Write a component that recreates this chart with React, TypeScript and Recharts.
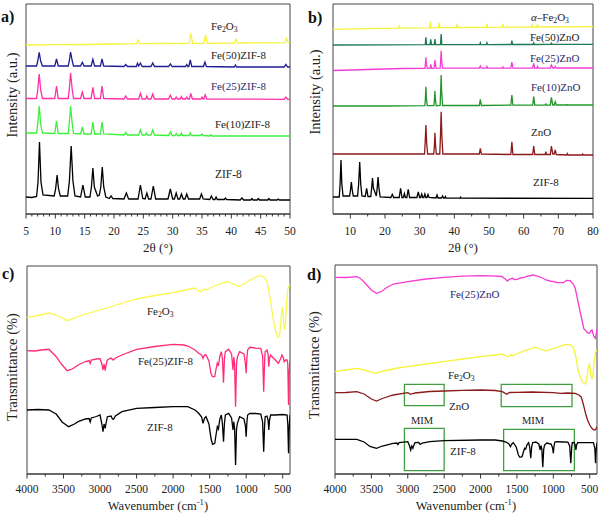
import React from 'react';
import { LineChart, Line, XAxis, YAxis, ReferenceArea } from 'recharts';

type Pt = [number, number];

// ---- panel a: XRD of Fe(x)ZIF-8 ----
const xrdZif8A: Pt[] = [[5,17],[6,16.5],[6.8,17.5],[7.05,32],[7.3,72],[7.55,32],[7.9,19],[9.8,18],[10.05,25],[10.3,39],[10.55,25],[10.85,18],[12.1,18],[12.4,33],[12.7,68],[13.0,33],[13.35,18],[14.3,17],[14.7,29],[15.1,17],[15.9,17],[16.15,27],[16.4,46],[16.65,27],[17.2,18],[17.5,19],[17.75,27],[18.0,47],[18.25,27],[18.6,17],[19.2,15.5],[19.5,18],[19.8,15.5],[21.7,15],[22.1,21],[22.5,15],[24.1,15],[24.5,29],[24.9,15.5],[25.3,15],[25.6,21],[25.9,15],[26.3,15],[26.7,28],[27.1,15],[29.2,15],[29.6,25],[30.0,15],[30.3,15],[30.6,21],[30.9,15],[31.2,15],[31.5,20],[31.8,15],[32.1,15],[32.4,20],[32.7,15],[34.6,15],[34.9,20],[35.2,15],[36.3,14.5],[36.6,18],[36.9,14.5],[37.2,14.5],[37.4,17],[37.6,14.5],[38.8,14.5],[39,16],[39.2,14.5],[41.5,14],[41.8,16],[42.1,14],[43.3,14],[43.5,15.5],[43.7,14],[44.4,14],[44.6,15.5],[44.8,14],[46.2,14],[46.4,15.5],[46.6,14],[47.8,14],[48,15],[48.2,14],[50,14]];
const xrdFe10Zif8: Pt[] = [[5,81],[6.8,81],[7.0,90],[7.25,108],[7.5,90],[7.8,81],[9.9,80.5],[10.2,93],[10.5,80.5],[12.2,80.5],[12.4,92],[12.6,108],[12.85,92],[13.1,80.5],[14.3,80],[14.6,87],[14.9,80],[16.1,80],[16.4,92],[16.7,80],[17.7,80],[17.95,92],[18.25,80],[21.7,79],[22,81.5],[22.3,79],[24.2,79],[24.5,84],[24.8,79],[25.3,79],[25.5,81],[25.7,79],[26.3,79],[26.6,84],[26.9,79],[29.3,78.5],[29.6,82],[29.9,78.5],[30.4,78.5],[30.6,80.5],[30.8,78.5],[31.3,78.5],[31.5,81],[31.7,78.5],[32.8,78.5],[33,81],[33.2,78.5],[34.8,78.5],[35,80],[35.2,78.5],[36.3,78],[36.5,79.5],[36.7,78],[50,78]];
const xrdFe25Zif8: Pt[] = [[5,115.5],[6.8,115.5],[7.0,124],[7.25,140],[7.5,124],[7.8,115.5],[9.9,115.5],[10.2,128],[10.5,115.5],[12.2,115.5],[12.4,126],[12.6,141],[12.85,126],[13.1,115.5],[14.3,115.5],[14.6,122],[14.9,115.5],[16.1,115.5],[16.4,126.7],[16.7,115.5],[17.7,115.5],[17.95,128],[18.25,115.5],[21.7,115],[22,118],[22.3,115],[24.2,115],[24.5,120.7],[24.8,115],[25.4,115],[25.6,118],[25.8,115],[26.3,115],[26.6,120],[26.9,115],[29.3,115],[29.6,118.7],[29.9,115],[30.4,115],[30.6,117],[30.8,115],[31.3,115],[31.5,117.5],[31.7,115],[32.2,115],[32.4,117],[32.6,115],[32.85,115],[33.1,120.7],[33.35,115],[34.8,115],[35,117],[35.2,115],[35.3,115],[35.55,119],[35.8,115],[49.0,114.7],[49.3,117],[49.6,114.7],[50,114.7]];
const xrdFe50Zif8: Pt[] = [[5,148],[6.8,148],[7.0,153],[7.25,161.7],[7.5,153],[7.8,148],[9.9,148],[10.2,155],[10.5,148],[12.2,148],[12.4,154],[12.6,162],[12.85,154],[13.1,148],[14.3,148],[14.6,151.7],[14.9,148],[16.1,148],[16.4,154.7],[16.7,148],[17.7,148],[17.95,155],[18.25,148],[21.7,147.5],[22,149.5],[22.3,147.5],[23.8,147.5],[24,150.7],[24.2,148],[24.5,151],[24.8,147.5],[26.3,147.5],[26.6,151],[26.9,147.5],[29.3,147.5],[29.6,150],[29.9,147.5],[32.2,147.5],[32.4,149.5],[32.6,147.5],[32.75,147.5],[33,154],[33.25,147.5],[35.25,147.5],[35.5,152],[35.75,147.5],[40.5,147],[40.7,149],[40.9,147],[49.0,147],[49.3,149.5],[49.6,147],[50,147]];
const xrdFe2o3A: Pt[] = [[5,169],[10,169.3],[15,169.5],[20,170],[23.8,170.3],[24.1,174],[24.4,170.3],[28,170.5],[32.8,170.6],[33.1,180.7],[33.4,170.6],[35.3,170.7],[35.6,179],[35.9,170.7],[40.5,171],[40.8,174.7],[41.1,171],[45,171.2],[49.1,171.3],[49.4,175.7],[49.7,171.3],[50,171.5]];

// ---- panel b: XRD of Fe(x)ZnO ----
const xrdZif8B: Pt[] = [[5,17],[6.8,17],[7.05,30],[7.3,54],[7.55,30],[7.9,18],[9.8,18],[10.05,24],[10.3,32],[10.55,24],[10.85,18],[12.1,18],[12.4,30],[12.7,52],[13.0,30],[13.35,18],[14.3,17.5],[14.7,25.7],[15.1,17.5],[15.9,17.5],[16.15,26],[16.4,36],[16.65,26],[17.5,18],[17.75,26],[18.0,37],[18.25,26],[18.6,17],[21.7,16.5],[22.1,19.7],[22.5,16.5],[24.1,16.5],[24.5,25.7],[24.9,16.5],[25.3,16.5],[25.6,20.5],[25.9,16.5],[26.3,16.5],[26.7,24.7],[27.1,16.5],[29.2,16.5],[29.6,22],[30.0,16.5],[30.3,16.5],[30.6,20],[30.9,16.5],[31.2,16.5],[31.5,20],[31.8,16.5],[32.1,16.5],[32.4,19.5],[32.7,16.5],[34.7,16],[35,19],[35.3,16],[36.3,16],[36.6,18],[36.9,16],[37.2,16],[37.4,17.5],[37.6,16],[41.6,15.8],[41.8,16.8],[42,15.8],[80,15.7]];
const xrdZnO: Pt[] = [[5,60],[20,60],[31.4,60],[31.6,72],[31.8,89],[32.0,72],[32.3,60],[34.05,60],[34.25,68],[34.4,81.3],[34.6,68],[34.8,60],[35.8,60],[36.0,78],[36.2,102.3],[36.4,78],[36.7,60],[47.2,60],[47.5,65.7],[47.8,60],[56.3,59.5],[56.6,72.3],[56.9,59.5],[62.6,59.5],[62.9,68],[63.2,59.5],[66.2,59.5],[66.4,62.3],[66.6,59.5],[67.7,59.5],[68.0,68],[68.4,60],[68.8,60],[69.1,64],[69.4,59.5],[72.4,59],[72.6,60.5],[72.8,59],[76.8,59],[77,60],[77.2,59],[80,59]];
const xrdFe10ZnO: Pt[] = [[5,108],[20,108],[31.5,108.3],[31.65,115],[31.8,127.3],[31.95,115],[32.2,108.3],[34.1,108.3],[34.25,114],[34.4,123.3],[34.55,114],[34.8,108.3],[35.9,108.5],[36.05,122],[36.2,139],[36.35,122],[36.6,108.5],[47.2,108.5],[47.5,114.7],[47.8,108.5],[56.3,108.8],[56.6,119],[56.9,108.8],[62.6,108.8],[62.9,117.3],[63.2,108.8],[66.2,108.8],[66.4,110],[66.6,108.8],[67.7,108.8],[68,116.7],[68.4,109],[68.8,109],[69.1,112.3],[69.4,109],[72.4,109],[72.6,109.5],[72.8,109],[80,109]];
const xrdFe25ZnO: Pt[] = [[5,143.5],[15,144.5],[25,145.5],[31.5,145.7],[31.65,150],[31.8,156.7],[31.95,150],[32.2,145.7],[32.95,145.7],[33.2,149.7],[33.45,145.7],[34.15,145.7],[34.25,149],[34.4,154],[34.55,149],[34.8,145.7],[35.9,145.8],[36.05,153],[36.2,163.3],[36.35,153],[36.6,145.8],[47.2,145.8],[47.5,148],[47.8,145.8],[49.2,145.8],[49.4,147.5],[49.6,145.8],[53.8,145.8],[54,147],[54.2,145.8],[56.3,145.9],[56.6,152],[56.9,145.9],[62.6,145.9],[62.9,150.7],[63.2,145.9],[63.8,145.9],[64,147.5],[64.2,145.9],[67.7,146],[68,149],[68.4,146],[68.8,146],[69.1,147.5],[69.4,146],[80,146]];
const xrdFe50ZnO: Pt[] = [[5,169],[20,169.2],[31.6,169.3],[31.8,176.7],[32.0,169.3],[33.0,169.3],[33.2,174.7],[33.4,169.3],[34.2,169.3],[34.4,175],[34.6,169.3],[36.0,169.4],[36.2,180],[36.4,169.4],[47.3,169.4],[47.5,171.3],[47.7,169.4],[49.2,169.4],[49.4,171.3],[49.6,169.4],[56.4,169.5],[56.6,173.3],[56.8,169.5],[62.7,169.5],[62.9,171.3],[63.1,169.5],[67.8,169.6],[68,170.7],[68.2,169.6],[80,169.7]];
const xrdFe2o3B: Pt[] = [[5,184.7],[15,185.3],[23.9,185.8],[24.1,188],[24.3,185.8],[32.9,186.2],[33.1,192.3],[33.3,186.2],[35.4,186.3],[35.6,191.3],[35.8,186.3],[40.6,186.5],[40.8,189],[41,186.5],[49.2,186.7],[49.4,190],[49.6,186.7],[53.8,186.8],[54,190],[54.2,186.8],[62.2,187],[62.4,189.3],[62.6,187],[63.8,187],[64,189.7],[64.2,187],[80,187.3]];

// ---- panel c: FTIR ----
const irFe2o3C: Pt[] = [[4000,156.7],[3850,158.5],[3700,161],[3600,159],[3450,153.3],[3300,157.5],[3100,162],[3000,164],[2800,168.5],[2500,175],[2250,178.5],[2000,181.3],[1800,184.5],[1700,186],[1650,183],[1620,182],[1580,185],[1550,184],[1500,186],[1400,189],[1300,191.5],[1250,192.3],[1180,190],[1100,187.5],[1020,190.5],[950,194],[880,196.5],[820,198.3],[760,197.5],[720,193],[690,184],[660,170],[630,155],[600,144],[575,138],[558,136.7],[538,141],[518,160],[503,167.3],[490,155],[476,144],[462,150],[450,168],[430,185],[410,189],[400,188]];
const irFe25Zif8: Pt[] = [[4000,123.3],[3900,123],[3800,124],[3700,124.7],[3650,121],[3600,117.3],[3530,110],[3450,103.3],[3380,105],[3300,109],[3200,112.5],[3150,113.5],[3135,110.5],[3120,114],[3050,115],[3000,115.3],[2975,110],[2960,104],[2945,110],[2930,103.3],[2915,110],[2900,114],[2850,116],[2820,114],[2790,116],[2700,119],[2500,124.7],[2250,127.5],[2000,129.7],[1850,129],[1800,128],[1700,124],[1650,120.7],[1610,119],[1590,115.7],[1570,119],[1550,119],[1510,113],[1480,100],[1460,97.3],[1430,97.3],[1415,104],[1395,111],[1380,108],[1360,118],[1340,122.3],[1325,115],[1310,91.3],[1298,115],[1285,122.3],[1240,124.7],[1200,120],[1180,104],[1170,117],[1158,110],[1145,67.3],[1132,110],[1120,117],[1090,122.3],[1030,120],[1010,110],[1000,100.7],[990,116],[980,124],[950,126.7],[870,126],[800,125.7],[775,118],[760,82.3],[748,112],[740,122.3],[715,124],[700,120],[690,107.3],[680,116],[665,119],[630,116],[600,114],[560,110.7],[530,115],[510,119],[490,116],[480,112.3],[460,114],[440,114],[430,110],[420,69],[412,100],[400,114]];
const irZif8C: Pt[] = [[4000,64],[3850,64.5],[3700,64],[3650,62],[3600,60],[3520,52],[3430,47.3],[3350,50],[3300,52.3],[3200,55],[3150,55.5],[3135,52],[3120,56],[3050,57.5],[3000,59],[2975,50],[2960,42.3],[2945,50],[2930,45.7],[2915,52],[2900,57.3],[2850,58],[2830,55],[2815,54.7],[2790,58],[2700,62.3],[2500,65.7],[2250,66.5],[2000,67.3],[1800,67.3],[1700,64],[1650,60.7],[1610,57],[1590,50.7],[1570,56],[1550,57.3],[1510,50],[1480,35],[1460,29.7],[1430,30.7],[1415,38],[1395,47.3],[1380,45],[1360,55],[1340,59],[1325,50],[1310,32.3],[1298,50],[1285,59],[1240,60.7],[1200,56],[1180,44],[1170,52.3],[1158,45],[1145,9],[1132,45],[1120,50.7],[1090,57.3],[1030,55],[1010,48],[1000,37.3],[990,52],[980,59],[950,60.7],[870,60.5],[800,60],[775,52],[760,22.3],[748,48],[740,57.3],[715,58],[700,54],[690,44],[680,54],[665,59],[600,59],[500,59.5],[440,59],[430,50],[420,20.7],[412,45],[400,59]];

// ---- panel d: FTIR ----
const irFe25ZnO: Pt[] = [[4000,196.7],[3850,196.5],[3700,197.3],[3650,195.5],[3600,192],[3500,184],[3430,180.7],[3350,183],[3300,186],[3200,190],[3000,192.3],[2750,195],[2500,196.7],[2250,197.8],[2000,198.3],[1850,198.2],[1707,197.5],[1660,195],[1630,193],[1600,195],[1560,195.7],[1540,194.5],[1500,194.7],[1450,196],[1400,196.7],[1350,197.8],[1276,199],[1200,197.3],[1150,196],[1100,194],[1050,193],[1000,192.3],[950,191.5],[864,191.3],[820,193.5],[768,193.3],[726,190],[700,186],[675,177.3],[640,165],[607,154],[580,145],[561,144],[530,141],[502,140.7],[485,143],[469,144],[445,138],[424,135.7],[410,140],[400,145]];
const irFe2o3D: Pt[] = [[4000,102.3],[3850,104],[3700,105.7],[3600,104],[3450,100.7],[3300,103.5],[3100,106.5],[3000,107.3],[2750,110],[2500,112.3],[2250,115],[2000,117.3],[1800,119],[1700,120],[1660,118.5],[1630,117.3],[1590,119],[1550,118.5],[1500,120],[1400,123.3],[1300,125.5],[1250,126.7],[1180,125],[1100,123],[1020,125],[950,126.7],[880,128.5],[820,129.7],[760,129],[720,125.7],[690,117],[660,104],[630,97],[600,92],[575,90.5],[560,90],[540,96],[515,108],[503,110],[488,100],[470,94.7],[455,100],[440,112],[420,122],[400,124]];
const irZnO: Pt[] = [[4000,81.3],[3850,81.5],[3700,82.3],[3600,80],[3500,75],[3430,73],[3350,75.5],[3200,79],[3000,81.3],[2960,79.7],[2930,80.5],[2900,81],[2700,82.5],[2500,83],[2250,83.7],[2000,84],[1800,83.5],[1700,82.3],[1640,79.7],[1600,81.5],[1500,81.7],[1300,82],[1000,81.3],[900,80.7],[800,81],[700,80.7],[650,79],[620,77.3],[600,73],[580,67.3],[555,60],[530,54],[500,49],[470,45.7],[450,44.3],[430,44],[415,45],[400,47.3]];
const irZif8D: Pt[] = [[4000,34.7],[3850,34.7],[3700,34.7],[3600,32],[3520,27.5],[3430,25.7],[3350,28],[3200,30.7],[3150,31],[3135,29.5],[3120,31.3],[3000,32.3],[2975,28],[2960,24],[2945,28],[2930,25.7],[2915,29],[2900,31.3],[2850,31.5],[2830,29.7],[2800,31],[2700,32.3],[2500,33.3],[2000,34],[1800,34],[1700,33],[1650,32],[1610,30],[1590,27.3],[1570,30],[1550,31.3],[1510,27],[1480,19],[1460,16.7],[1430,17.3],[1415,21],[1395,25.7],[1380,25],[1360,29.5],[1340,31.3],[1325,27],[1310,15.7],[1298,27],[1285,31.3],[1240,32],[1200,30],[1180,24],[1170,28.5],[1158,25],[1145,6.7],[1132,25],[1120,29],[1090,31],[1030,30],[1010,26],[1000,20.7],[990,28],[980,32],[950,32.3],[870,32],[800,31.8],[775,28],[760,10.7],[748,26],[740,31.3],[715,31.5],[700,29],[690,24],[680,29],[665,31.3],[600,31.3],[450,31.3],[430,26],[420,10.7],[412,24],[400,31.3]];
// MIM boxes: [x1, x2, y1, y2]
const mimBoxes: [number, number, number, number][] = [[3046,2500,68.3,89.7],[1716,743,67.3,89.7],[3046,2500,3.3,45.7],[1683,711,3.3,44.7]];

// ticks
const xrdTicksA = [5, 10, 15, 20, 25, 30, 35, 40, 45, 50];
const xrdTicksB = [10, 20, 30, 40, 50, 60, 70, 80];
const irTicks = [4000, 3500, 3000, 2500, 2000, 1500, 1000, 500];
const minorA = Array.from({ length: 46 }, (_, i) => 5 + i);
const minorB = [15, 25, 35, 45, 55, 65, 75];
const minorIR = [3750, 3250, 2750, 2250, 1750, 1250, 750];

const serif = "'Liberation Serif', 'DejaVu Serif', 'Times New Roman', Times, serif";
const navy = '#2a2a6e';
const toRows = (pts: Pt[]) => pts.map(([x, y]) => ({ x, y }));

const makeTick = (majors: number[], dy: number) => (props: any) => {
  const { x, y, payload } = props;
  const major = majors.includes(payload.value);
  return (
    <g>
      <line x1={x} y1={y} x2={x} y2={y + (major ? 4.5 : 2.5)} stroke="#333" strokeWidth={1} />
      {major && (
        <text x={x} y={y + dy} textAnchor="middle" style={{ fontSize: 11.5, fontFamily: serif }} fill="#222">
          {payload.value}
        </text>
      )}
    </g>
  );
};

type Series = { pts: Pt[]; color: string };

function Panel(props: {
  left: number; top: number; width: number; height: number;
  margin: { top: number; right: number; bottom: number; left: number };
  xDomain: [number, number]; reversed?: boolean; majors: number[]; minors: number[];
  yMax: number; series: Series[]; dy: number; boxes?: [number, number, number, number][];
}) {
  const { left, top, width, height, margin, xDomain, reversed, majors, minors, yMax, series, dy, boxes } = props;
  const ticks = Array.from(new Set([...majors, ...minors])).sort((a, b) => a - b);
  return (
    <div style={{ position: 'absolute', left, top }}>
      <LineChart width={width} height={height} margin={margin}>
        <XAxis type="number" dataKey="x" domain={xDomain} reversed={reversed} ticks={ticks} interval={0}
          tickLine={false} tickSize={0} tickMargin={0} tick={makeTick(majors, dy)} height={30}
          axisLine={{ stroke: '#333' }} allowDataOverflow />
        <YAxis type="number" domain={[0, yMax]} hide allowDataOverflow />
        <ReferenceArea x1={xDomain[0]} x2={xDomain[1]} y1={0} y2={yMax} fill="none" stroke="#444" strokeWidth={1} ifOverflow="visible" />
        {series.map((s, i) => (
          <Line key={i} data={toRows(s.pts)} dataKey="y" type="linear" stroke={s.color} strokeWidth={1.3}
            dot={false} activeDot={false} isAnimationActive={false} />
        ))}
        {(boxes || []).map((b, i) => (
          <ReferenceArea key={'b' + i} x1={b[0]} x2={b[1]} y1={b[2]} y2={b[3]} fill="none" stroke="#3f9f3f" strokeWidth={1.3} ifOverflow="visible" />
        ))}
      </LineChart>
    </div>
  );
}

const Sub = ({ children }: { children: React.ReactNode }) => (
  <sub style={{ fontSize: '0.7em', verticalAlign: '-0.3em', lineHeight: 0 }}>{children}</sub>
);
const Sup = ({ children }: { children: React.ReactNode }) => (
  <sup style={{ fontSize: '0.7em', verticalAlign: '0.5em', lineHeight: 0 }}>{children}</sup>
);

function Txt(props: { x: number; y: number; size?: number; color?: string; bold?: boolean; center?: boolean; rotate?: boolean; children: React.ReactNode }) {
  const { x, y, size = 11, color = '#222', bold, center, rotate, children } = props;
  const transform = rotate ? 'translate(-50%,-50%) rotate(-90deg)' : center ? 'translate(-50%,-50%)' : 'translate(0,-50%)';
  return (
    <div style={{ position: 'absolute', left: x, top: y, transform, fontSize: size, color, fontWeight: bold ? 'bold' : 'normal', lineHeight: 1, whiteSpace: 'nowrap', fontFamily: serif }}>
      {children}
    </div>
  );
}

export default function App() {
  return (
    <div style={{ position: 'absolute', left: 0, top: 0, width: 602, height: 522, background: '#fff', fontFamily: serif }}>
      <Panel left={0} top={0} width={300} height={260} margin={{ top: 4, right: 10, bottom: 16, left: 26 }}
        xDomain={[5, 50]} majors={xrdTicksA} minors={minorA} yMax={210} dy={21}
        series={[
          { pts: xrdZif8A, color: '#000' },
          { pts: xrdFe10Zif8, color: '#3cf03c' },
          { pts: xrdFe25Zif8, color: '#ff2fa6' },
          { pts: xrdFe50Zif8, color: '#1c1c94' },
          { pts: xrdFe2o3A, color: '#f4f43a' },
        ]} />
      <Panel left={300} top={0} width={302} height={260} margin={{ top: 4, right: 9, bottom: 16, left: 33 }}
        xDomain={[5, 80]} majors={xrdTicksB} minors={minorB} yMax={210} dy={21}
        series={[
          { pts: xrdZif8B, color: '#000' },
          { pts: xrdZnO, color: '#8b1a1a' },
          { pts: xrdFe10ZnO, color: '#23962a' },
          { pts: xrdFe25ZnO, color: '#f53cd2' },
          { pts: xrdFe50ZnO, color: '#1d7a55' },
          { pts: xrdFe2o3B, color: '#f4f43a' },
        ]} />
      <Panel left={0} top={260} width={300} height={262} margin={{ top: 6, right: 10, bottom: 18, left: 27 }}
        xDomain={[400, 4000]} reversed majors={irTicks} minors={minorIR} yMax={208} dy={19}
        series={[
          { pts: irZif8C, color: '#000' },
          { pts: irFe25Zif8, color: '#ff2a78' },
          { pts: irFe2o3C, color: '#f8f850' },
        ]} />
      <Panel left={300} top={260} width={302} height={262} margin={{ top: 5, right: 5, bottom: 18, left: 35 }}
        xDomain={[400, 4000]} reversed majors={irTicks} minors={minorIR} yMax={209} dy={19}
        boxes={mimBoxes}
        series={[
          { pts: irZif8D, color: '#000' },
          { pts: irZnO, color: '#8b1a1a' },
          { pts: irFe2o3D, color: '#f4f43a' },
          { pts: irFe25ZnO, color: '#f53cd2' },
        ]} />

      {/* panel letters */}
      <Txt x={1} y={17} size={16} bold color="#111">a)</Txt>
      <Txt x={308} y={18} size={16} bold color="#111">b)</Txt>
      <Txt x={2} y={274} size={16} bold color="#111">c)</Txt>
      <Txt x={307} y={275} size={16} bold color="#111">d)</Txt>

      {/* axis titles */}
      <Txt x={12} y={95} size={14.5} rotate>Intensity (a.u.)</Txt>
      <Txt x={315} y={92} size={14.5} rotate>Intensity (a.u.)</Txt>
      <Txt x={12} y={367} size={14.5} rotate>Transmittance (%)</Txt>
      <Txt x={314} y={365} size={14.5} rotate>Transmittance (%)</Txt>
      <Txt x={158} y={247} size={13} center>2θ (°)</Txt>
      <Txt x={463} y={247} size={13} center>2θ (°)</Txt>
      <Txt x={158} y={506} size={12.5} center>Wavenumber (cm<Sup>-1</Sup>)</Txt>
      <Txt x={466} y={506} size={12.5} center>Wavenumber (cm<Sup>-1</Sup>)</Txt>

      {/* panel a labels */}
      <Txt x={211} y={26}>Fe<Sub>2</Sub>O<Sub>3</Sub></Txt>
      <Txt x={211} y={54.5}>Fe(50)ZIF-8</Txt>
      <Txt x={211} y={86} color={navy}>Fe(25)ZIF-8</Txt>
      <Txt x={215} y={124}>Fe(10)ZIF-8</Txt>
      <Txt x={215} y={175} size={11.5}>ZIF-8</Txt>

      {/* panel b labels */}
      <Txt x={531} y={16.5}><i>α</i>–Fe<Sub>2</Sub>O<Sub>3</Sub></Txt>
      <Txt x={530} y={36.5}>Fe(50)ZnO</Txt>
      <Txt x={530} y={58} color={navy}>Fe(25)ZnO</Txt>
      <Txt x={531} y={87} color={navy}>Fe(10)ZnO</Txt>
      <Txt x={531} y={131.5}>ZnO</Txt>
      <Txt x={533} y={182}>ZIF-8</Txt>

      {/* panel c labels */}
      <Txt x={147} y={311}>Fe<Sub>2</Sub>O<Sub>3</Sub></Txt>
      <Txt x={138} y={361}>Fe(25)ZIF-8</Txt>
      <Txt x={147} y={427}>ZIF-8</Txt>

      {/* panel d labels */}
      <Txt x={450} y={294} color={navy}>Fe(25)ZnO</Txt>
      <Txt x={448} y={375}>Fe<Sub>2</Sub>O<Sub>3</Sub></Txt>
      <Txt x={449} y={406}>ZnO</Txt>
      <Txt x={450} y={451}>ZIF-8</Txt>
      <Txt x={422} y={421} size={10.5} center>MIM</Txt>
      <Txt x={533} y={421} size={10.5} center>MIM</Txt>
    </div>
  );
}
